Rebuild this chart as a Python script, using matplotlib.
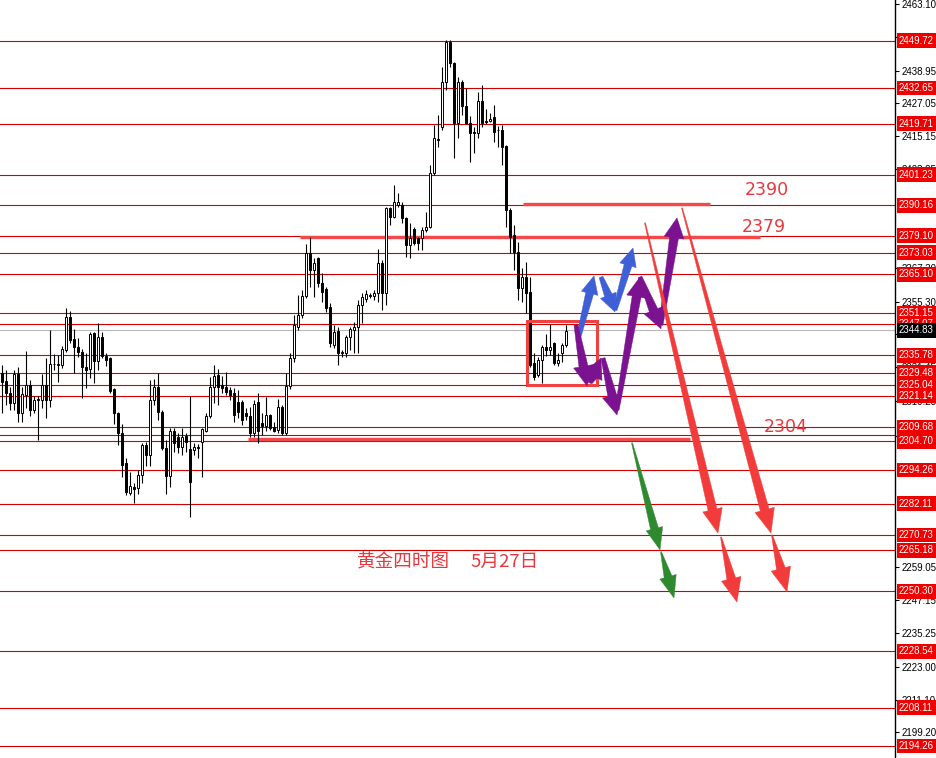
import matplotlib
matplotlib.use("Agg")
import matplotlib.pyplot as plt
import numpy as np
from matplotlib.patches import Polygon, Rectangle
from matplotlib.transforms import IdentityTransform, blended_transform_factory

# gold H4 candles, oldest first
opens = [2329.4, 2326.5, 2322.2, 2318.5, 2329.0, 2314.9, 2321.4, 2325.1, 2316.0, 2320.0,
         2319.6, 2325.1, 2319.6, 2332.7, 2332.3, 2332.3, 2337.7, 2349.7, 2341.7, 2338.8,
         2337.0, 2331.6, 2330.9, 2343.9, 2333.8, 2342.5, 2335.6, 2334.8, 2323.6, 2314.9,
         2307.7, 2296.8, 2285.9, 2288.1, 2287.7, 2292.4, 2303.3, 2299.7, 2319.6, 2324.3,
         2315.3, 2302.2, 2292.1, 2308.4, 2306.2, 2302.6, 2306.6, 2301.9, 2301.5, 2302.6,
         2304.4, 2308.4, 2313.8, 2324.3, 2328.7, 2325.1, 2324.3, 2323.3, 2322.2, 2318.9,
         2318.9, 2314.9, 2313.8, 2307.7, 2318.9, 2311.3, 2310.2, 2314.2, 2309.8, 2308.8,
         2317.1, 2307.7, 2324.6, 2334.8, 2346.1, 2350.4, 2357.3, 2372.9, 2366.7, 2371.1,
         2362.0, 2359.8, 2353.3, 2339.6, 2344.6, 2336.7, 2336.7, 2342.5, 2345.0, 2346.1,
         2354.0, 2356.2, 2357.3, 2357.3, 2358.4, 2369.3, 2358.4, 2389.2, 2385.9, 2390.3,
         2390.3, 2385.6, 2375.8, 2381.6, 2378.3, 2378.3, 2381.2, 2382.3, 2401.9, 2414.2,
         2418.6, 2434.8, 2449.3, 2441.7, 2420.0, 2434.8, 2426.1, 2420.0, 2416.7, 2416.4,
         2427.9, 2420.7, 2420.7, 2422.2, 2417.5, 2417.5, 2411.7, 2388.5, 2379.4, 2373.2,
         2360.2, 2364.2, 2358.8, 2333.0, 2328.7, 2334.1, 2338.8, 2337.7, 2340.3, 2333.0,
         2336.7, 2339.6]
highs = [2332.3, 2330.5, 2324.3, 2330.5, 2331.6, 2324.3, 2337.4, 2326.9, 2321.1, 2321.1,
         2329.0, 2334.8, 2345.0, 2336.3, 2335.9, 2339.2, 2353.0, 2351.9, 2345.3, 2342.1,
         2338.1, 2336.7, 2344.3, 2344.3, 2347.5, 2344.3, 2336.7, 2335.2, 2324.0, 2315.3,
         2310.9, 2298.6, 2293.5, 2289.6, 2294.3, 2304.0, 2304.4, 2326.9, 2327.2, 2329.4,
         2316.0, 2305.1, 2309.5, 2309.5, 2307.7, 2309.5, 2307.7, 2321.1, 2304.0, 2303.7,
         2309.5, 2314.9, 2327.9, 2332.3, 2330.9, 2328.3, 2329.8, 2324.3, 2324.0, 2323.3,
         2319.6, 2316.7, 2317.1, 2319.6, 2322.2, 2314.9, 2320.7, 2314.6, 2311.7, 2320.0,
         2317.8, 2329.4, 2336.7, 2350.4, 2357.7, 2359.5, 2376.1, 2378.7, 2371.1, 2371.4,
         2365.6, 2360.6, 2354.8, 2346.8, 2346.1, 2337.7, 2343.2, 2346.1, 2347.9, 2355.9,
         2358.4, 2359.5, 2358.4, 2359.5, 2374.3, 2370.4, 2389.6, 2389.6, 2397.5, 2394.6,
         2391.4, 2385.9, 2383.8, 2382.3, 2378.7, 2382.3, 2387.7, 2404.8, 2419.3, 2422.9,
         2440.3, 2450.1, 2450.1, 2442.1, 2436.7, 2435.6, 2432.7, 2422.5, 2418.5, 2431.2,
         2433.8, 2425.1, 2423.6, 2426.5, 2418.9, 2419.3, 2412.0, 2389.2, 2383.0, 2376.9,
         2367.5, 2369.6, 2364.2, 2336.7, 2335.2, 2339.6, 2343.5, 2347.2, 2340.6, 2336.7,
         2340.3, 2346.8]
lows = [2314.9, 2317.8, 2316.0, 2316.0, 2311.7, 2311.7, 2316.7, 2313.8, 2314.9, 2305.1,
        2316.7, 2313.1, 2317.1, 2330.5, 2326.2, 2331.2, 2337.0, 2340.3, 2329.4, 2335.2,
        2320.3, 2324.0, 2327.6, 2325.8, 2330.5, 2334.8, 2331.9, 2322.2, 2310.9, 2303.3,
        2291.7, 2285.2, 2285.2, 2282.3, 2285.6, 2289.6, 2295.7, 2295.7, 2317.8, 2312.4,
        2301.5, 2285.6, 2288.1, 2300.8, 2300.4, 2299.7, 2300.8, 2277.2, 2299.7, 2298.6,
        2291.7, 2308.0, 2313.1, 2318.5, 2317.8, 2322.2, 2321.4, 2319.6, 2311.7, 2313.1,
        2310.6, 2312.4, 2306.2, 2306.2, 2304.0, 2306.9, 2308.4, 2308.8, 2308.0, 2307.7,
        2306.9, 2306.9, 2323.6, 2333.4, 2345.0, 2349.3, 2356.6, 2360.6, 2357.0, 2360.6,
        2355.1, 2351.5, 2338.8, 2338.5, 2332.3, 2335.2, 2335.2, 2337.7, 2336.7, 2336.7,
        2347.5, 2355.1, 2356.6, 2355.9, 2355.1, 2352.2, 2354.0, 2383.0, 2385.6, 2389.6,
        2383.8, 2371.4, 2371.1, 2375.8, 2374.0, 2374.0, 2380.5, 2381.9, 2401.1, 2411.3,
        2417.5, 2431.9, 2440.3, 2407.3, 2414.6, 2422.9, 2419.6, 2405.9, 2409.1, 2414.6,
        2418.6, 2419.6, 2420.4, 2413.1, 2411.3, 2404.8, 2382.3, 2372.9, 2366.7, 2355.9,
        2355.1, 2351.2, 2331.6, 2326.9, 2327.9, 2325.8, 2335.6, 2335.9, 2332.3, 2331.9,
        2333.4, 2338.8]
closes = [2326.2, 2322.2, 2318.5, 2329.0, 2314.9, 2321.8, 2325.1, 2316.0, 2319.6, 2319.8,
          2325.1, 2319.6, 2332.7, 2332.5, 2332.7, 2338.1, 2349.7, 2341.4, 2338.8, 2337.0,
          2331.6, 2330.5, 2343.5, 2333.8, 2342.5, 2335.6, 2334.1, 2322.9, 2314.9, 2307.7,
          2296.1, 2286.3, 2288.5, 2287.4, 2292.4, 2303.3, 2299.7, 2319.6, 2324.3, 2315.3,
          2302.2, 2292.1, 2308.4, 2304.0, 2302.6, 2306.2, 2304.4, 2289.9, 2302.6, 2302.4,
          2309.1, 2313.8, 2324.3, 2328.3, 2324.3, 2324.0, 2322.5, 2321.4, 2314.2, 2315.3,
          2312.4, 2313.8, 2307.7, 2318.2, 2308.4, 2310.2, 2314.2, 2309.5, 2308.4, 2317.1,
          2307.7, 2324.6, 2334.8, 2346.8, 2350.4, 2357.3, 2372.9, 2366.7, 2369.3, 2362.0,
          2358.8, 2352.9, 2340.3, 2344.3, 2336.7, 2337.0, 2342.5, 2345.3, 2346.1, 2354.0,
          2356.9, 2358.0, 2357.7, 2358.4, 2369.3, 2358.4, 2389.2, 2385.9, 2391.4, 2391.4,
          2385.6, 2375.8, 2378.3, 2376.5, 2376.5, 2381.2, 2382.3, 2401.9, 2414.6, 2414.0,
          2434.8, 2449.3, 2441.7, 2420.0, 2434.8, 2426.1, 2420.0, 2416.4, 2416.4, 2427.9,
          2420.0, 2420.4, 2421.4, 2416.7, 2417.3, 2411.3, 2388.5, 2378.7, 2373.2, 2360.2,
          2364.2, 2358.4, 2332.3, 2327.9, 2334.1, 2338.8, 2337.7, 2338.8, 2333.0, 2334.1,
          2339.6, 2344.8]

current_price = 2344.83

# horizontal levels drawn on the chart
levels = [2449.72, 2432.65, 2419.71, 2401.23, 2390.16, 2379.10, 2373.03, 2365.10,
          2351.15, 2347.07, 2335.78, 2329.48, 2325.04, 2321.14, 2309.68, 2306.90,
          2304.70, 2294.26, 2282.11, 2270.73, 2265.18, 2250.30, 2228.54, 2208.11, 2194.26]
labelled = [2449.72, 2432.65, 2419.71, 2401.23, 2390.16, 2379.10, 2373.03, 2365.10,
            2351.15, 2347.07, 2335.78, 2329.48, 2325.04, 2321.14, 2309.68,
            2304.70, 2294.26, 2282.11, 2270.73, 2265.18, 2250.30, 2228.54, 2208.11, 2194.26]
tick_prices = [2463.10, 2451.20, 2438.95, 2427.05, 2415.15, 2403.25, 2367.30, 2355.30,
               2343.65, 2331.45, 2319.25, 2306.47, 2259.05, 2247.15, 2235.25, 2223.00,
               2211.10, 2199.20]

# key levels (price, from bar, to bar)
key_prices = [2390.6, 2378.8, 2305.6]
key_from = [130.25, 74.5, 61.5]
key_to = [177.0, 189.5, 172.0]
key_texts = ["2390", "2379", "2304"]
key_text_pos = [(185.75, 2395.7), (185.0, 2382.3), (190.5, 2309.8)]

# forecast arrows: (bar, price) start -> end
blue_path = [((144.0, 2341.4), (148.0, 2364.6)),
             ((149.75, 2364.2), (153.25, 2351.5)),
             ((153.25, 2352.2), (157.75, 2374.7))]
purple_path = [((143.5, 2346.8), (146.25, 2324.7)),
               ((147.0, 2325.8), (149.75, 2334.8)),
               ((150.25, 2334.8), (153.75, 2314.2)),
               ((153.75, 2316.0), (159.5, 2364.2)),
               ((159.5, 2364.2), (164.75, 2345.4)),
               ((164.75, 2346.8), (168.75, 2385.6))]
red_path = [((160.75, 2383.8), (179.0, 2271.4)),
            ((179.75, 2270.0), (183.75, 2246.4)),
            ((170.0, 2389.2), (192.25, 2271.4)),
            ((192.5, 2270.7), (196.25, 2250.1))]
green_path = [((157.5, 2304.1), (164.5, 2265.3)),
              ((164.75, 2264.6), (168.0, 2247.9))]

box_bars = (131.25, 148.75)
box_prices = (2325.2, 2348.3)

title_parts = ["黄金四时图", "5月27日"]
title_pos = [(88.75, 2260.9), (117.0, 2260.9)]

fig = plt.figure(figsize=(9.36, 7.58), dpi=100)
ax = fig.add_axes([0, 0, 895 / 936, 1])
ax.set_xlim(-0.5, 223.25)
ax.set_ylim(2189.91, 2464.55)
ax.set_autoscale_on(False)

for s in ["left", "top", "bottom"]:
    ax.spines[s].set_visible(False)
ax.spines["right"].set_linewidth(1.0)
ax.set_xticks([])
ax.yaxis.tick_right()
ax.set_yticks(tick_prices)
ax.set_yticklabels([f"{t:.2f}" for t in tick_prices], family="Liberation Sans")
ax.tick_params(axis="y", length=3, width=0.8, labelsize=7, pad=1.5)

for lv in levels:
    ax.axhline(lv, color="#d40000", lw=0.8, zorder=1)
ax.axhline(current_price, color="#b8b8b8", lw=0.8, zorder=1)

# candles
o, h, l, c = map(np.array, (opens, highs, lows, closes))
idx = np.arange(len(o))
up = c >= o
bottom = np.minimum(o, c)
height = np.maximum(np.abs(c - o), 0.3)
ax.vlines(idx, l, h, color="black", lw=0.8, zorder=3)
ax.bar(idx[up], height[up], bottom=bottom[up], width=0.65, facecolor="white",
       edgecolor="black", lw=0.7, zorder=4)
ax.bar(idx[~up], height[~up], bottom=bottom[~up], width=0.65, facecolor="black",
       edgecolor="black", lw=0.7, zorder=4)

# key levels
ax.hlines(key_prices, key_from, key_to, color="#f24a4a", lw=2.4, zorder=2)
for txt, (bx, py) in zip(key_texts, key_text_pos):
    ax.text(bx, py, txt, color="#e8383d", fontsize=12.5, va="center", ha="left", zorder=6)

ax.add_patch(Rectangle((box_bars[0], box_prices[0]), box_bars[1] - box_bars[0],
                       box_prices[1] - box_prices[0], fill=False, ec="#f04040", lw=2.2, zorder=5))


def taper_arrow(start, end, color, w0, w1, hw, hl):
    p0 = ax.transData.transform(start)
    p1 = ax.transData.transform(end)
    d = (p1 - p0) / np.hypot(*(p1 - p0))
    n = np.array([-d[1], d[0]])
    neck = p1 - d * hl
    pts = [p0 + n * w0 / 2, neck + n * w1 / 2, neck + n * hw / 2, p1,
           neck - n * hw / 2, neck - n * w1 / 2, p0 - n * w0 / 2]
    poly = Polygon(pts, closed=True, fc=color, ec=color, lw=0.3,
                   transform=IdentityTransform(), zorder=6, clip_on=False)
    ax.add_artist(poly)


for s, e in blue_path:
    taper_arrow(s, e, "#3f5fd6", 4, 8, 17, 18)
for s, e in purple_path:
    taper_arrow(s, e, "#7b128f", 4, 9, 20, 20)
for s, e in red_path:
    taper_arrow(s, e, "#f23c3c", 1, 9, 20, 24)
for s, e in green_path:
    taper_arrow(s, e, "#2f8a2f", 1, 8, 17, 22)

for txt, (bx, py) in zip(title_parts, title_pos):
    ax.text(bx, py, txt, color="#e8383d", fontsize=13.4, va="center", ha="left",
            family=["Noto Sans CJK SC", "DejaVu Sans"], zorder=6)

# price boxes on the right scale
lab_tr = blended_transform_factory(fig.transFigure, ax.transData)
for lv in labelled:
    ax.text(899 / 936, lv, f"{lv:.2f}", transform=lab_tr, color="white", fontsize=7,
            family="Liberation Sans", va="center", ha="left", clip_on=False, zorder=7,
            bbox=dict(boxstyle="square,pad=0.25", fc="#ee0000", ec="none"))
ax.text(899 / 936, current_price, f"{current_price:.2f}", transform=lab_tr, color="white",
        fontsize=7, family="Liberation Sans", va="center", ha="left", clip_on=False, zorder=7,
        bbox=dict(boxstyle="square,pad=0.25", fc="black", ec="none"))

fig.savefig("out.png", dpi=100)
